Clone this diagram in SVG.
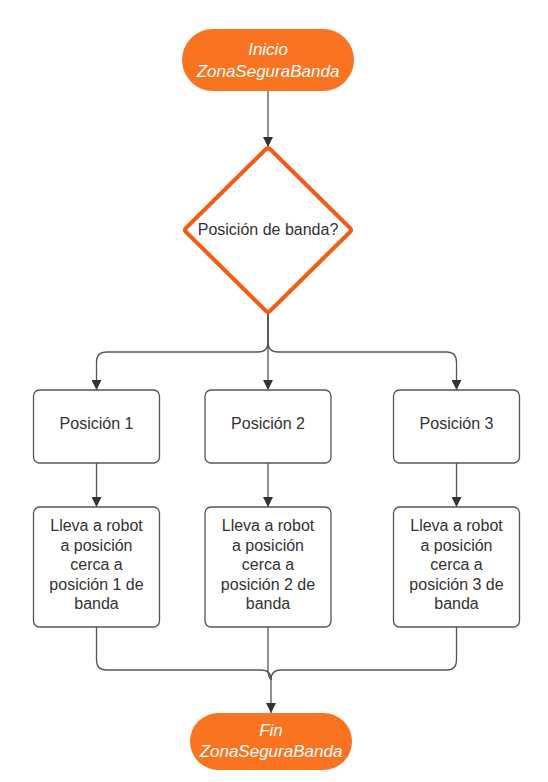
<svg xmlns="http://www.w3.org/2000/svg" width="548" height="782" viewBox="0 0 548 782">
<defs>
<marker id="arr" viewBox="0 0 10 10" refX="10" refY="5" markerWidth="10" markerHeight="10" markerUnits="userSpaceOnUse" orient="auto">
<path d="M0,0 L10,5 L0,10 Z" fill="#333333"/>
</marker>
<style>
.term{fill:#FA7320;stroke:none}
.tt{font-family:"Liberation Sans",Arial,sans-serif;font-size:17px;font-style:italic;fill:#ffffff;text-anchor:middle}
.box{fill:#ffffff;stroke:#555555;stroke-width:1.3}
.bt{font-family:"Liberation Sans",Arial,sans-serif;font-size:16px;fill:#333333;text-anchor:middle}
.c{fill:none;stroke:#555555;stroke-width:1.3}
.ca{fill:none;stroke:#555555;stroke-width:1.3;marker-end:url(#arr)}
</style>
</defs>
<rect width="548" height="782" fill="#ffffff"/>
<g id="connectors">
<path class="ca" d="M268,91 V147"/>
<path class="ca" d="M268,313 V390"/>
<path class="ca" d="M268,313 V342 Q268,352 258,352 H106.5 Q96.5,352 96.5,362 V390"/>
<path class="ca" d="M268,313 V342 Q268,352 278,352 H446.5 Q456.5,352 456.5,362 V390"/>
<path class="ca" d="M96.5,463 V507"/>
<path class="ca" d="M268,463 V507"/>
<path class="ca" d="M456.5,463 V507"/>
<path class="c" d="M96.5,627 V660 Q96.5,670 106.5,670 H261 Q271,670 271,680"/>
<path class="c" d="M456.5,627 V660 Q456.5,670 446.5,670 H281 Q271,670 271,680"/>
<path class="ca" d="M268,627 V670 Q268,676 271,680 V713"/>
</g>
<g id="start">
<rect class="term" x="182" y="29" width="172" height="62" rx="31"/>
<text class="tt" x="268" y="55">Inicio</text>
<text class="tt" x="268" y="77">ZonaSeguraBanda</text>
</g>
<g id="decision">
<path d="M268,149 Q268,147 270,149 L350,228 Q352,230 350,232 L270,311 Q268,313 266,311 L186,232 Q184,230 186,228 L266,149 Q268,147 268,149 Z" fill="#ffffff" stroke="#F25C14" stroke-width="4" stroke-linejoin="round"/>
<text class="bt" x="268" y="235">Posición de banda?</text>
</g>
<g id="pos1">
<rect class="box" x="33.5" y="390" width="126" height="73" rx="6"/>
<text class="bt" x="96.5" y="429">Posición 1</text>
</g>
<g id="pos2">
<rect class="box" x="205" y="390" width="126" height="73" rx="6"/>
<text class="bt" x="268" y="429">Posición 2</text>
</g>
<g id="pos3">
<rect class="box" x="393.5" y="390" width="126" height="73" rx="6"/>
<text class="bt" x="456.5" y="429">Posición 3</text>
</g>
<g id="act1">
<rect class="box" x="33.5" y="507" width="126" height="120" rx="6"/>
<text class="bt" x="96.5" y="531">Lleva a robot</text>
<text class="bt" x="96.5" y="551">a posición</text>
<text class="bt" x="96.5" y="570">cerca a</text>
<text class="bt" x="96.5" y="590">posición 1 de</text>
<text class="bt" x="96.5" y="609">banda</text>
</g>
<g id="act2">
<rect class="box" x="205" y="507" width="126" height="120" rx="6"/>
<text class="bt" x="268" y="531">Lleva a robot</text>
<text class="bt" x="268" y="551">a posición</text>
<text class="bt" x="268" y="570">cerca a</text>
<text class="bt" x="268" y="590">posición 2 de</text>
<text class="bt" x="268" y="609">banda</text>
</g>
<g id="act3">
<rect class="box" x="393.5" y="507" width="126" height="120" rx="6"/>
<text class="bt" x="456.5" y="531">Lleva a robot</text>
<text class="bt" x="456.5" y="551">a posición</text>
<text class="bt" x="456.5" y="570">cerca a</text>
<text class="bt" x="456.5" y="590">posición 3 de</text>
<text class="bt" x="456.5" y="609">banda</text>
</g>
<g id="end">
<rect class="term" x="190" y="713" width="162" height="57" rx="28.5"/>
<text class="tt" x="271" y="736">Fin</text>
<text class="tt" x="271" y="757">ZonaSeguraBanda</text>
</g>
</svg>
